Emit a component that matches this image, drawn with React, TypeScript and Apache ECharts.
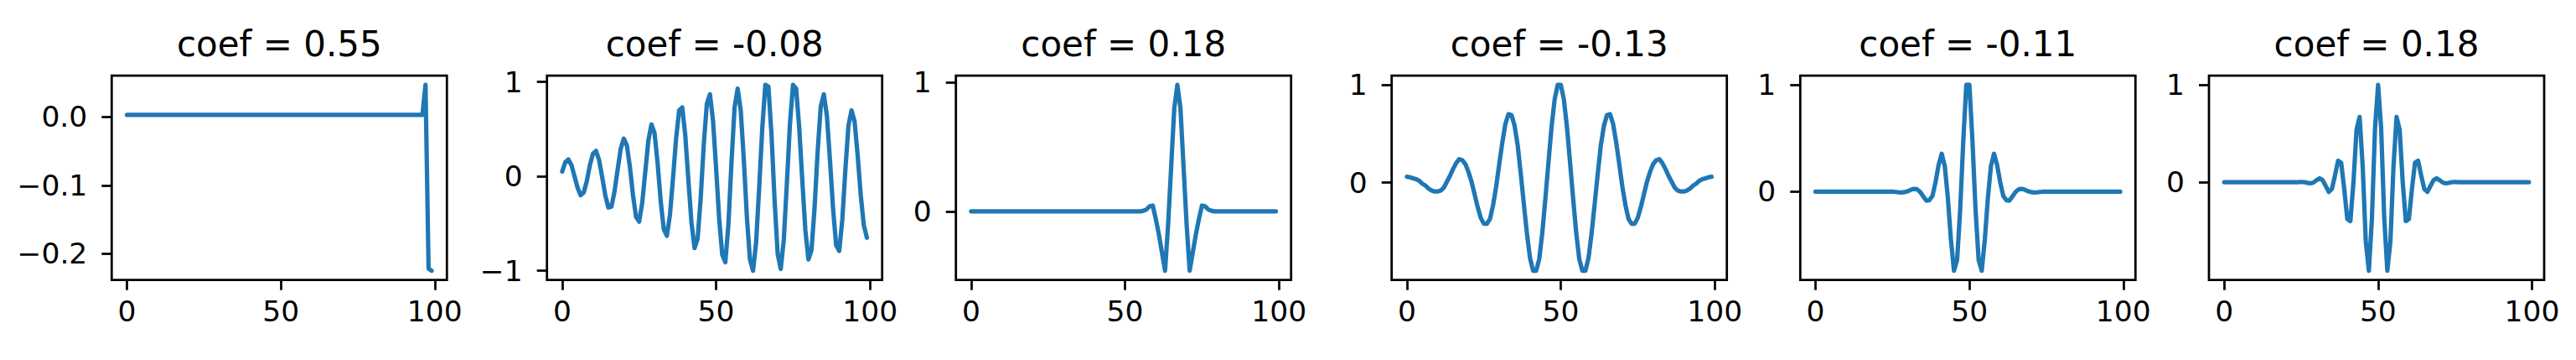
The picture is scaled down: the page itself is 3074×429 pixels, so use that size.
import React, { useEffect, useRef } from "react";
import * as echarts from "echarts";

const TITLES = ["coef = 0.55", "coef = -0.08", "coef = 0.18", "coef = -0.13", "coef = -0.11", "coef = 0.18"];
const X_TICKS = [0, 50, 100];
const Y_TICKS = [[0.0, -0.1, -0.2], [1, 0, -1], [1, 0], [1, 0, -1], [1, 0], [1, 0]];
const Y_DECIMALS = [1, 0, 0, 0, 0, 0];

const S1 = [
  0.003, 0.003, 0.003, 0.003, 0.003, 0.003, 0.003, 0.003, 0.003, 0.003,
  0.003, 0.003, 0.003, 0.003, 0.003, 0.003, 0.003, 0.003, 0.003, 0.003,
  0.003, 0.003, 0.003, 0.003, 0.003, 0.003, 0.003, 0.003, 0.003, 0.003,
  0.003, 0.003, 0.003, 0.003, 0.003, 0.003, 0.003, 0.003, 0.003, 0.003,
  0.003, 0.003, 0.003, 0.003, 0.003, 0.003, 0.003, 0.003, 0.003, 0.003,
  0.003, 0.003, 0.003, 0.003, 0.003, 0.003, 0.003, 0.003, 0.003, 0.003,
  0.003, 0.003, 0.003, 0.003, 0.003, 0.003, 0.003, 0.003, 0.003, 0.003,
  0.003, 0.003, 0.003, 0.003, 0.003, 0.003, 0.003, 0.003, 0.003, 0.003,
  0.003, 0.003, 0.003, 0.003, 0.003, 0.003, 0.003, 0.003, 0.003, 0.003,
  0.003, 0.003, 0.003, 0.003, 0.003, 0.003, 0.003, 0.047, -0.222, -0.225,
];

const S2 = [
  0.05, 0.15, 0.18, 0.12, 0.0, -0.12, -0.2, -0.17, -0.05, 0.12,
  0.24, 0.27, 0.17, -0.01, -0.2, -0.33, -0.32, -0.16, 0.07, 0.29,
  0.4, 0.33, 0.1, -0.2, -0.43, -0.48, -0.28, 0.05, 0.38, 0.55,
  0.46, 0.14, -0.26, -0.56, -0.63, -0.41, -0.02, 0.4, 0.7, 0.73,
  0.43, -0.04, -0.49, -0.76, -0.66, -0.23, 0.34, 0.77, 0.87, 0.59,
  0.09, -0.45, -0.83, -0.91, -0.51, 0.15, 0.73, 0.93, 0.7, 0.18,
  -0.43, -0.88, -1.0, -0.7, -0.12, 0.51, 0.97, 0.95, 0.44, -0.25,
  -0.82, -0.98, -0.67, -0.07, 0.56, 0.97, 0.93, 0.52, -0.04, -0.57,
  -0.88, -0.78, -0.33, 0.27, 0.74, 0.87, 0.64, 0.17, -0.34, -0.73,
  -0.79, -0.46, 0.07, 0.54, 0.7, 0.58, 0.22, -0.2, -0.52, -0.65,
];

const S3 = [
  0, 0, 0, 0, 0, 0, 0, 0, 0, 0,
  0, 0, 0, 0, 0, 0, 0, 0, 0, 0,
  0, 0, 0, 0, 0, 0, 0, 0, 0, 0,
  0, 0, 0, 0, 0, 0, 0, 0, 0, 0,
  0, 0, 0, 0, 0, 0, 0, 0, 0, 0,
  0, 0, 0, 0, 0, 0, 0.005, 0.015, 0.04, 0.045,
  -0.06, -0.18, -0.32, -0.46, -0.1, 0.35, 0.8, 0.98, 0.8, 0.35,
  -0.1, -0.46, -0.32, -0.18, -0.06, 0.045, 0.04, 0.015, 0.005, 0,
  0, 0, 0, 0, 0, 0, 0, 0, 0, 0,
  0, 0, 0, 0, 0, 0, 0, 0, 0, 0,
];

const S4 = [
  0.06, 0.055, 0.045, 0.035, 0.02, -0.01, -0.03, -0.06, -0.08, -0.09,
  -0.09, -0.08, -0.05, 0.01, 0.07, 0.14, 0.2, 0.24, 0.23, 0.19,
  0.11, 0.01, -0.12, -0.25, -0.36, -0.42, -0.42, -0.37, -0.23, -0.04,
  0.19, 0.41, 0.6, 0.7, 0.69, 0.58, 0.38, 0.09, -0.22, -0.52,
  -0.77, -0.9, -0.9, -0.78, -0.51, -0.16, 0.21, 0.57, 0.85, 1.0,
  1.0, 0.85, 0.57, 0.21, -0.16, -0.51, -0.78, -0.9, -0.9, -0.77,
  -0.52, -0.22, 0.09, 0.38, 0.58, 0.69, 0.7, 0.6, 0.41, 0.19,
  -0.04, -0.23, -0.37, -0.42, -0.42, -0.36, -0.25, -0.12, 0.01, 0.11,
  0.19, 0.23, 0.24, 0.2, 0.14, 0.07, 0.01, -0.05, -0.08, -0.09,
  -0.09, -0.08, -0.06, -0.03, -0.01, 0.02, 0.035, 0.045, 0.055, 0.06,
];

const S5 = [
  0, 0, 0, 0, 0, 0, 0, 0, 0, 0,
  0, 0, 0, 0, 0, 0, 0, 0, 0, 0,
  0, 0, 0, 0, 0, 0, -0.003, -0.006, -0.007, -0.004,
  0.005, 0.018, 0.026, 0.022, -0.003, -0.044, -0.084, -0.08, -0.04, 0.09,
  0.25, 0.355, 0.24, -0.06, -0.45, -0.74, -0.64, -0.17, 0.47, 1.0,
  1.0, 0.47, -0.17, -0.64, -0.74, -0.45, -0.06, 0.24, 0.355, 0.25,
  0.09, -0.04, -0.08, -0.084, -0.044, -0.003, 0.022, 0.026, 0.018, 0.005,
  -0.004, -0.007, -0.006, -0.003, 0, 0, 0, 0, 0, 0,
  0, 0, 0, 0, 0, 0, 0, 0, 0, 0,
  0, 0, 0, 0, 0, 0, 0, 0, 0, 0,
];

const S6 = [
  0, 0, 0, 0, 0, 0, 0, 0, 0, 0,
  0, 0, 0, 0, 0, 0, 0, 0, 0, 0,
  0, 0, 0, 0, 0, 0.003, 0, -0.007, -0.012, -0.004,
  0.02, 0.04, 0.02, -0.04, -0.1, -0.07, 0.07, 0.22, 0.2, -0.07,
  -0.38, -0.4, 0.0, 0.54, 0.67, 0.16, -0.61, -0.91, -0.37, 0.55,
  1.0, 0.55, -0.37, -0.91, -0.61, 0.16, 0.67, 0.54, 0.0, -0.4,
  -0.38, -0.07, 0.2, 0.22, 0.07, -0.07, -0.1, -0.04, 0.02, 0.04,
  0.02, -0.004, -0.012, -0.007, 0, 0.003, 0, 0, 0, 0,
  0, 0, 0, 0, 0, 0, 0, 0, 0, 0,
  0, 0, 0, 0, 0, 0, 0, 0, 0, 0,
];

const SERIES = [S1, S2, S3, S4, S5, S6];

// layout (pixels)
const PANEL_LEFT = [133.3, 652.7, 1140.7, 1660.7, 2148.3, 2636];
const PANEL_W = 400;
const PANEL_TOP = 90;
const PANEL_H = 243.7;
const FONT = "DejaVu Sans";
const BLUE = "#1f77b4";

function padRange(vals: number[]): [number, number] {
  const mn = Math.min(...vals);
  const mx = Math.max(...vals);
  const p = (mx - mn) * 0.05;
  return [mn - p, mx + p];
}

function fmt(v: number, dec: number): string {
  const s = Math.abs(v).toFixed(dec);
  return v < -1e-9 ? "\u2212" + s : s;
}

export default function App() {
  const ref = useRef<HTMLDivElement>(null);
  useEffect(() => {
    if (!ref.current) return;
    const chart = echarts.init(ref.current, undefined, { renderer: "svg" });
    const n = S1.length;
    const xr = padRange([0, n - 1]);
    const grids: any[] = [];
    const xAxes: any[] = [];
    const yAxes: any[] = [];
    const series: any[] = [];
    const graphics: any[] = [];
    SERIES.forEach((s, i) => {
      grids.push({
        left: PANEL_LEFT[i],
        top: PANEL_TOP,
        width: PANEL_W,
        height: PANEL_H,
        show: true,
        borderColor: "#000",
        borderWidth: 2.75,
        backgroundColor: "transparent",
        z: 5,
      });
      xAxes.push({
        type: "value",
        gridIndex: i,
        position: "bottom",
        min: xr[0],
        max: xr[1],
        axisLine: { show: false, onZero: false },
        splitLine: { show: false },
        axisTick: {
          show: true,
          inside: false,
          length: 12,
          lineStyle: { color: "#000", width: 2.75 },
          customValues: X_TICKS,
        },
        axisLabel: {
          customValues: X_TICKS,
          margin: 20,
          fontSize: 34.5,
          color: "#000",
          fontFamily: FONT,
          formatter: (v: number) => String(Math.round(v)),
        },
      });
      const yr = padRange(s);
      const dec = Y_DECIMALS[i];
      yAxes.push({
        type: "value",
        gridIndex: i,
        position: "left",
        min: yr[0],
        max: yr[1],
        axisLine: { show: false, onZero: false },
        splitLine: { show: false },
        axisTick: {
          show: true,
          inside: false,
          length: 12,
          lineStyle: { color: "#000", width: 2.75 },
          customValues: Y_TICKS[i],
        },
        axisLabel: {
          customValues: Y_TICKS[i],
          margin: 29,
          fontSize: 34.5,
          color: "#000",
          fontFamily: FONT,
          formatter: (v: number) => fmt(v, dec),
        },
      });
      series.push({
        type: "line",
        xAxisIndex: i,
        yAxisIndex: i,
        showSymbol: false,
        symbol: "none",
        silent: true,
        lineStyle: { color: BLUE, width: 5.2, cap: "round", join: "round" },
        data: s.map((v, k) => [k, v]),
        z: 2,
      });
      graphics.push({
        type: "text",
        x: PANEL_LEFT[i] + PANEL_W / 2,
        y: 52.5,
        style: {
          text: TITLES[i],
          fontSize: 42,
          fontFamily: FONT,
          fill: "#000",
          textAlign: "center",
          verticalAlign: "middle",
        },
      });
    });
    chart.setOption({
      animation: false,
      backgroundColor: "#ffffff",
      textStyle: { fontFamily: FONT },
      grid: grids,
      xAxis: xAxes,
      yAxis: yAxes,
      series,
      graphic: graphics,
    });
    return () => chart.dispose();
  }, []);
  return (
    <div
      ref={ref}
      style={{ position: "fixed", left: 0, top: 0, width: 3074, height: 429, background: "#fff" }}
    />
  );
}
